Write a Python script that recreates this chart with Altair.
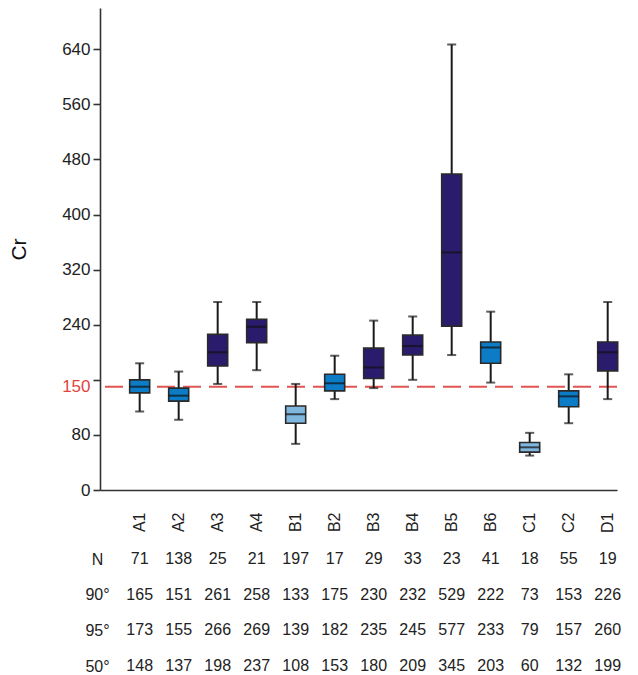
import altair as alt
import pandas as pd

# ---- data ----
groups = ["A1", "A2", "A3", "A4", "B1", "B2", "B3", "B4", "B5", "B6", "C1", "C2", "D1"]
whisker_low = [114, 102, 154, 174, 67, 132, 148, 160, 196, 156, 50, 97, 132]
q1 = [141, 129, 180, 214, 97, 144, 162, 196, 238, 184, 55, 121, 173]
median = [150, 137, 200, 237, 110, 155, 178, 209, 345, 207, 62, 136, 200]
q3 = [160, 148, 226, 248, 122, 168, 206, 225, 459, 215, 69, 144, 215]
whisker_high = [184, 172, 273, 273, 154, 195, 246, 252, 647, 259, 83, 168, 273]
color_class = ["mid", "mid", "dark", "dark", "light", "mid", "dark", "dark", "dark", "mid", "light", "mid", "dark"]

row_labels = ["N", "90°", "95°", "50°"]
n_values = [71, 138, 25, 21, 197, 17, 29, 33, 23, 41, 18, 55, 19]
p90 = [165, 151, 261, 258, 133, 175, 230, 232, 529, 222, 73, 153, 226]
p95 = [173, 155, 266, 269, 139, 182, 235, 245, 577, 233, 79, 157, 260]
p50 = [148, 137, 198, 237, 108, 153, 180, 209, 345, 203, 60, 132, 199]

threshold = 150
y_ticks = [0, 80, 150, 160, 240, 320, 400, 480, 560, 640]
class_names = ["dark", "mid", "light"]
class_colors = ["#2b1b6d", "#0b7cc5", "#80b7de"]

FONT = "Liberation Sans"

box_df = pd.DataFrame({
    "group": groups, "lo": whisker_low, "q1": q1, "med": median,
    "q3": q3, "hi": whisker_high, "cls": color_class,
})

table_rows = []
for lab, vals in zip(row_labels, [n_values, p90, p95, p50]):
    for g, v in zip(groups, vals):
        table_rows.append({"group": g, "row": lab, "value": v})
table_df = pd.DataFrame(table_rows)

W = 517
x_scale = alt.Scale(type="point", domain=groups, padding=0.628, align=0.81)

x_axis = alt.Axis(title=None, labelAngle=-90, labelFontSize=16, labelFont=FONT,
                  labelColor="#222", ticks=False, labelPadding=22,
                  domainColor="#333", domainWidth=1.6)
x_enc = alt.X("group:N", scale=x_scale, axis=x_axis)

y_scale = alt.Scale(domain=[0, 700], nice=False, zero=True)
y_axis = alt.Axis(
    title="Cr", titleFontSize=21, titleFont=FONT, titleFontWeight="normal",
    titleColor="#111", titlePadding=32,
    values=y_ticks, labelExpr="datum.value == 160 ? '' : datum.label",
    labelOverlap=False, labelFontSize=17, labelFont=FONT,
    labelColor={"condition": {"test": "datum.value == 150", "value": "#e0443f"}, "value": "#222"},
    tickOpacity={"condition": {"test": "datum.value == 150", "value": 0}, "value": 1},
    tickSize=7, tickWidth=1.6, tickColor="#333", labelPadding=3,
    domainColor="#333", domainWidth=1.6, grid=False,
)

base = alt.Chart(box_df)

thr = alt.Chart(pd.DataFrame({"t": [threshold]})).mark_rule(
    color="#e05551", strokeWidth=2, strokeDash=[18, 8]
).encode(y=alt.Y("t:Q", scale=y_scale, axis=y_axis))

whisk = base.mark_rule(color="#1a1a1a", strokeWidth=2).encode(
    x=x_enc, y=alt.Y("lo:Q", scale=y_scale), y2="hi:Q")
cap_lo = base.mark_tick(size=9, thickness=2, color="#1a1a1a").encode(
    x=x_enc, y=alt.Y("lo:Q", scale=y_scale))
cap_hi = base.mark_tick(size=9, thickness=2, color="#1a1a1a").encode(
    x=x_enc, y=alt.Y("hi:Q", scale=y_scale))
box = base.mark_bar(size=20, stroke="#2a2a2a", strokeWidth=1.6).encode(
    x=x_enc, y=alt.Y("q1:Q", scale=y_scale), y2="q3:Q",
    color=alt.Color("cls:N", scale=alt.Scale(domain=class_names, range=class_colors), legend=None))
med = base.mark_tick(size=20, thickness=2, color="#111").encode(
    x=x_enc, y=alt.Y("med:Q", scale=y_scale))

main = alt.layer(thr, whisk, cap_lo, cap_hi, box, med).properties(width=W, height=482)

table = alt.Chart(table_df).mark_text(fontSize=16, font=FONT, color="#222").encode(
    x=alt.X("group:N", scale=x_scale, axis=None),
    y=alt.Y("row:N", sort=row_labels, scale=alt.Scale(type="point", padding=0),
            axis=alt.Axis(title=None, domain=False, ticks=False, tickSize=0,
                          labelAlign="center", labelPadding=3, labelFontSize=16,
                          labelFont=FONT, labelColor="#222")),
    text="value:Q",
).properties(width=W, height=107)

chart = alt.vconcat(main, table, spacing=18).properties(
    padding={"left": 0, "top": 0, "right": 0, "bottom": 0}
).configure_view(stroke=None).configure_concat(spacing=18)

chart.save("out.html", embed_options={"renderer": "svg", "actions": False})
